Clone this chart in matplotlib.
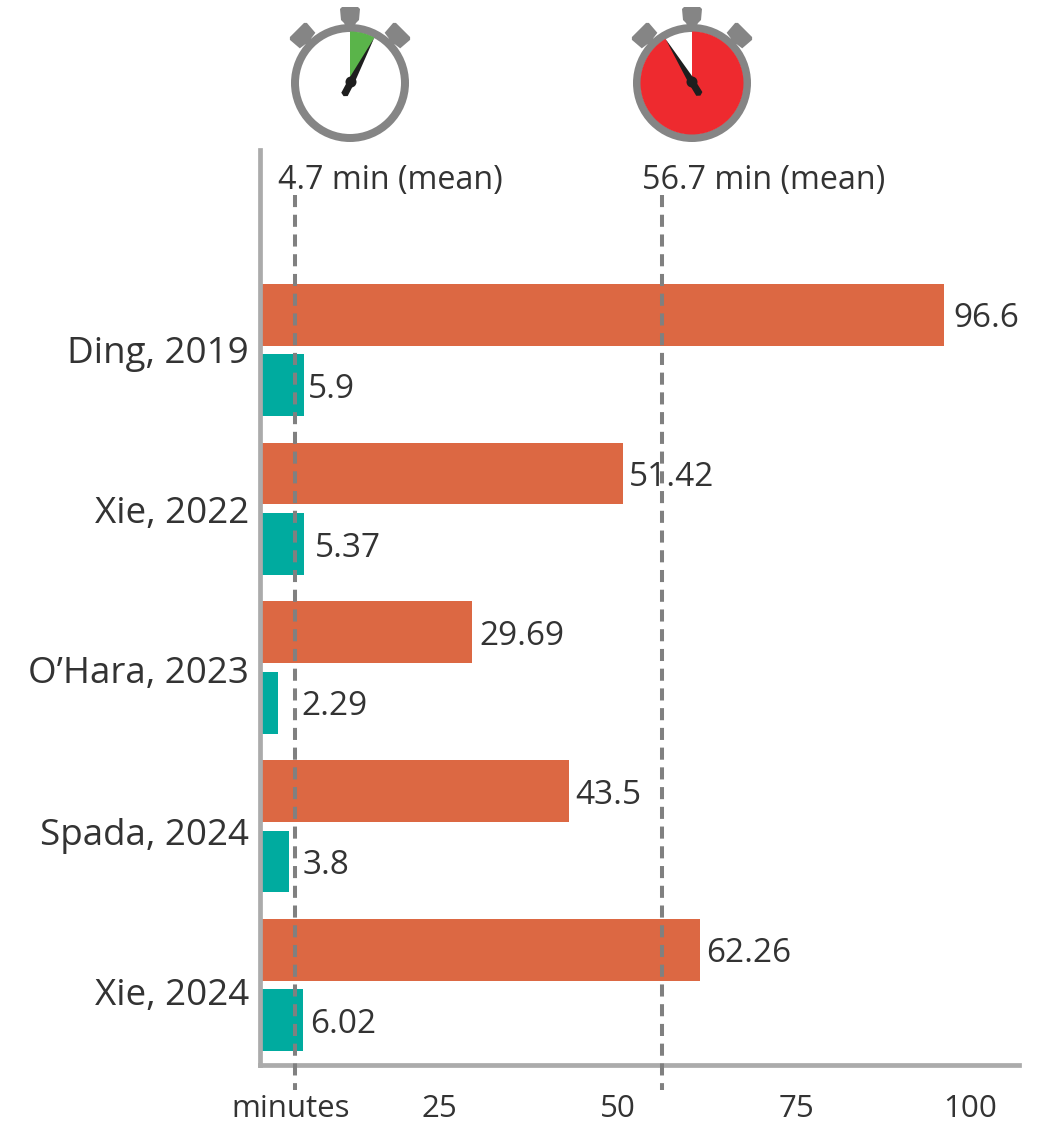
import matplotlib
matplotlib.use("Agg")
import matplotlib.pyplot as plt
from matplotlib.patches import Wedge, Circle, Polygon
from matplotlib.transforms import Affine2D
import numpy as np

studies = ["Ding, 2019", "Xie, 2022", "O\u2019Hara, 2023", "Spada, 2024", "Xie, 2024"]
# bar lengths; printed labels are kept separately
orange_values = [96.6, 51.15, 29.69, 43.5, 62.1]
teal_values = [5.9, 5.9, 2.29, 3.8, 5.8]
orange_labels = ["96.6", "51.42", "29.69", "43.5", "62.26"]
teal_labels = ["5.9", "5.37", "2.29", "3.8", "6.02"]
mean_teal = 4.7
mean_orange = 56.7
mean_labels = ["4.7 min (mean)", "56.7 min (mean)"]
x_ticks = [25, 50, 75, 100]
x_label = "minutes"

ORANGE, TEAL, GREY, DASH, TXT = "#DC6843", "#00AB9F", "#ABABAB", "#808080", "#333333"
W, H = 1039, 1131
plt.rcParams["font.family"] = ["Open Sans", "DejaVu Sans"]
fig = plt.figure(figsize=(W/100, H/100), dpi=100)

# axes placed in pixels
L, R, T, B = 260, 1019, 150, 1065
ax = fig.add_axes([L/W, 1-B/H, (R-L)/W, (B-T)/H])
ppu = 7.06
x0 = 262
ax.set_xlim((L-x0)/ppu, (R-x0)/ppu)
y0, dy = 350, 158.75
ax.set_ylim((B-y0)/dy, (T-y0)/dy)
ax.patch.set_alpha(0)

y = np.arange(len(studies))
ax.barh(y-0.222, orange_values, height=0.39, color=ORANGE, zorder=2)
ax.barh(y+0.222, teal_values, height=0.39, color=TEAL, zorder=2)

# value labels (individual pixel nudges as in the reference)
or_off = [9, 6, 8, 6, 6]
te_off = [4, 11, 23, 14, 7]
for i in y:
    ax.annotate(orange_labels[i], (orange_values[i], i-0.222), xytext=(or_off[i]*0.72, -3),
                textcoords="offset points", va="center", ha="left", fontsize=24, color=TXT, zorder=5)
    ax.annotate(teal_labels[i], (teal_values[i], i+0.222), xytext=(te_off[i]*0.72, -3),
                textcoords="offset points", va="center", ha="left", fontsize=24, color=TXT, zorder=5)

for s in ["top", "right"]:
    ax.spines[s].set_visible(False)
for s in ["left", "bottom"]:
    ax.spines[s].set_color(GREY)
    ax.spines[s].set_linewidth(3.4)

ax.set_yticks(y, studies, fontsize=26.5, color=TXT)
ax.tick_params(axis="y", length=0, pad=8)
for lab, nudge in zip(ax.get_yticklabels(), [0, -1, -2, -5, -7]):
    lab.set_transform(lab.get_transform() + Affine2D().translate(0, nudge))
ax.set_xticks([])

# mean lines
yl_top, yl_bot = (195-y0)/dy, (1090-y0)/dy
for m in (mean_teal, mean_orange):
    ax.plot([m, m], [yl_top, yl_bot], color=DASH, lw=2.9, ls=(0, (3.0, 1.9)), clip_on=False, zorder=4)

# overlay in pixel coordinates for annotations and stopwatches
ov = fig.add_axes([0, 0, 1, 1])
ov.set_xlim(0, W); ov.set_ylim(H, 0); ov.axis("off"); ov.patch.set_alpha(0)

ov.text(390, 181, mean_labels[0], ha="center", va="center", fontsize=23.2, color=TXT)
ov.text(764, 181, mean_labels[1], ha="center", va="center", fontsize=23.2, color=TXT)
ov.text(291, 1109, x_label, ha="center", va="center", fontsize=22.5, color=TXT)
for t, px in zip(x_ticks, [439, 618, 796, 970]):
    ov.text(px, 1109, str(t), ha="center", va="center", fontsize=22.5, color=TXT)

RING = "#858585"
def stopwatch(cx, cy, theta_tip, fill_color, fill_from, fill_to, hub_off):
    # crown
    ov.add_patch(Polygon([(cx-5, cy-55), (cx+5, cy-55), (cx+5, cy-58), (cx+6, cy-60), (cx+9, cy-63), (cx+10, cy-74),
                          (cx+8, cy-76), (cx-8, cy-76), (cx-10, cy-74), (cx-9, cy-63), (cx-6, cy-60), (cx-5, cy-58)],
                         closed=True, color=RING, lw=0))
    # side knobs
    for sgn in (-1, 1):
        tr = Affine2D().rotate_deg(sgn*45).translate(cx, cy) + ov.transData
        ov.add_patch(Polygon([(-4, -54), (4, -54), (4, -59), (11, -60), (12, -73), (10, -75), (-10, -75), (-12, -73), (-11, -60), (-4, -59)],
                             closed=True, color=RING, lw=0, transform=tr))
    ov.add_patch(Circle((cx, cy), 59, color=RING, lw=0))
    ov.add_patch(Circle((cx, cy), 51, color="white", lw=0))
    # y axis is inverted so angles run clockwise from +x; top = -90
    ov.add_patch(Wedge((cx, cy), 51.5, fill_from-90, fill_to-90, color=fill_color, lw=0))
    # hand
    a = np.deg2rad(theta_tip)
    d = np.array([np.sin(a), -np.cos(a)])
    hub = np.array([cx+hub_off[0], cy+hub_off[1]])
    tip = np.array([cx, cy]) + d*51.5
    d2 = (tip-hub)/np.linalg.norm(tip-hub); n2 = np.array([d2[1], -d2[0]])
    back = hub - d2*14
    ov.add_patch(Polygon([tip, hub+n2*3.5, back+n2*3.6, back-d2*2, back-n2*3.6, hub-n2*3.5], closed=True, color="#1E1E1E", lw=0, zorder=5))
    ov.add_patch(Circle(hub, 5.5, color="#1E1E1E", lw=0, zorder=5))

stopwatch(350, 83, 28.2, "#5AB44A", 0, 28.2, (1, -1))
stopwatch(692, 83, -31, "#EE2A2F", 0, 329, (0, -1))

fig.savefig("out.png", dpi=100)
